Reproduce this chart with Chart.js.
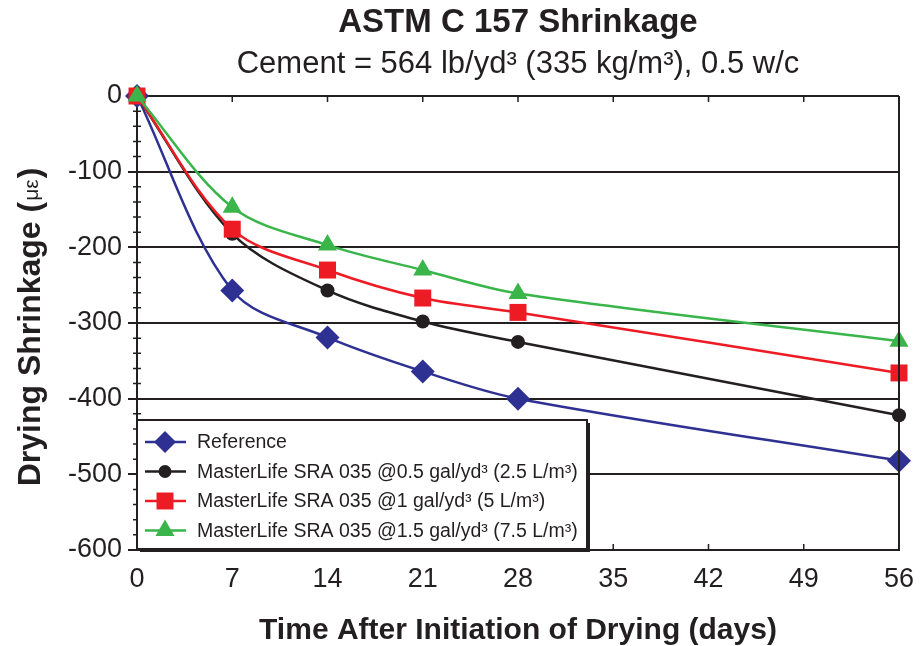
<!DOCTYPE html>
<html>
<head>
<meta charset="utf-8">
<script src="https://cdn.jsdelivr.net/npm/chart.js@4.4.1/dist/chart.umd.min.js"></script>
<style>
  html, body { margin: 0; padding: 0; background: #fff; }
  #wrap { width: 923px; height: 646px; }
</style>
</head>
<body>
<div id="wrap"><canvas id="shrinkChart" width="923" height="646"></canvas></div>
<script>
// data
const days = [0, 7, 14, 21, 28, 56];
const referenceVals = [0, -257, -319, -364, -400, -482];
const sra05Vals = [0, -182, -257, -298, -325, -422];
const sra1Vals = [0, -176, -230, -267, -286, -366];
const sra15Vals = [0, -147, -197, -230, -261, -324];

const seriesNames = [
    'Reference',
    'MasterLife SRA 035 @0.5 gal/yd³ (2.5 L/m³)',
    'MasterLife SRA 035 @1 gal/yd³ (5 L/m³)',
    'MasterLife SRA 035 @1.5 gal/yd³ (7.5 L/m³)'
];
const xTickVals = [0, 7, 14, 21, 28, 35, 42, 49, 56];
const yTickVals = [0, -100, -200, -300, -400, -500, -600];

const titleText = 'ASTM C 157 Shrinkage';
const subtitleText = 'Cement = 564 lb/yd³ (335 kg/m³), 0.5 w/c';
const xTitle = 'Time After Initiation of Drying (days)';

const ink = '#231f20';
const FONT = '"Liberation Sans", Arial, Helvetica, sans-serif';

const styles = [
    { color: '#2e3192', pointStyle: 'rectRot', radius: 12, legendRadius: 11 },
    { color: '#231f20', pointStyle: 'circle', radius: 7, legendRadius: 6.5 },
    { color: '#ed1c24', pointStyle: 'rect', radius: 12, legendRadius: 12 },
    { color: '#39b54a', pointStyle: 'triangle', radius: 11, legendRadius: 11 }
];
const allVals = [referenceVals, sra05Vals, sra1Vals, sra15Vals];

const datasets = allVals.map((vals, i) => ({
    label: seriesNames[i],
    data: days.map((d, j) => ({ x: d, y: vals[j] })),
    borderColor: styles[i].color,
    backgroundColor: styles[i].color,
    pointStyle: styles[i].pointStyle,
    pointRadius: styles[i].radius,
    pointBorderWidth: 0,
    borderWidth: 2.5,
    tension: 0.33,
    clip: false,
    order: 3 - i
}));

// titles, frame, minor ticks and the boxed legend
const decorPlugin = {
    id: 'decor',
    afterDraw(chart) {
        const ctx = chart.ctx;
        const ca = chart.chartArea;
        const xs = chart.scales.x, ys = chart.scales.y;
        const cx = (ca.left + ca.right) / 2;
        ctx.save();
        ctx.fillStyle = ink;
        ctx.textAlign = 'center';
        ctx.textBaseline = 'alphabetic';
        ctx.font = 'bold 33px ' + FONT;
        ctx.fillText(titleText, cx, 32);
        ctx.font = '31px ' + FONT;
        ctx.fillText(subtitleText, cx, 73);
        ctx.font = 'bold 30px ' + FONT;
        ctx.fillText(xTitle, cx, 639);

        // y title with small greek unit
        ctx.save();
        ctx.translate(40, (ca.top + ca.bottom) / 2 + 4);
        ctx.rotate(-Math.PI / 2);
        ctx.textAlign = 'left';
        const partA = 'Drying Shrinkage (';
        const partB = 'με';
        const partC = ')';
        ctx.font = 'bold 32px ' + FONT;
        const wA = ctx.measureText(partA).width;
        const wC = ctx.measureText(partC).width;
        ctx.font = '21px ' + FONT;
        const wB = ctx.measureText(partB).width + 2;
        let px = -(wA + wB + wC) / 2;
        ctx.font = 'bold 32px ' + FONT;
        ctx.fillText(partA, px, 0);
        px += wA;
        ctx.font = '21px ' + FONT;
        ctx.fillText(partB, px + 1, -2);
        px += wB;
        ctx.font = 'bold 32px ' + FONT;
        ctx.fillText(partC, px, 0);
        ctx.restore();

        // frame right edge
        ctx.strokeStyle = ink;
        ctx.lineWidth = 2;
        ctx.beginPath();
        ctx.moveTo(ca.right, ca.top);
        ctx.lineTo(ca.right, ca.bottom);
        ctx.stroke();

        // minor y ticks
        ctx.lineWidth = 1.5;
        ctx.beginPath();
        for (let v = -580; v < 0; v += 20) {
            if (v % 100 === 0) continue;
            const y = ys.getPixelForValue(v);
            ctx.moveTo(ca.left - 4, y);
            ctx.lineTo(ca.left + 4, y);
        }
        // x ticks on top and bottom edges
        xTickVals.forEach(v => {
            if (v === 0 || v === 56) return;
            const x = xs.getPixelForValue(v);
            ctx.moveTo(x, ca.top);
            ctx.lineTo(x, ca.top + 6);
            ctx.moveTo(x, ca.bottom);
            ctx.lineTo(x, ca.bottom - 6);
        });
        ctx.stroke();

        // legend box
        const bx = ca.left, by = 420, bw = 450, bh = ca.bottom - 1 - by;
        ctx.fillStyle = ink;
        ctx.fillRect(bx + 3, by + 3, bw, bh);
        ctx.fillStyle = '#fff';
        ctx.fillRect(bx, by, bw, bh);
        ctx.strokeStyle = ink;
        ctx.lineWidth = 2;
        ctx.strokeRect(bx, by, bw, bh);

        ctx.textAlign = 'left';
        ctx.textBaseline = 'middle';
        ctx.font = '19.5px ' + FONT;
        seriesNames.forEach((name, i) => {
            const rowY = 442 + i * 29.5;
            const st = styles[i];
            ctx.strokeStyle = st.color;
            ctx.lineWidth = 2.5;
            ctx.beginPath();
            ctx.moveTo(bx + 8, rowY);
            ctx.lineTo(bx + 49, rowY);
            ctx.stroke();
            ctx.fillStyle = st.color;
            Chart.helpers.drawPoint(ctx, { pointStyle: st.pointStyle, radius: st.legendRadius, rotation: 0, borderWidth: 0 }, bx + 28, rowY);
            ctx.fillStyle = ink;
            ctx.fillText(name, bx + 60, rowY + 1);
        });
        ctx.restore();
    }
};

const ctx = document.getElementById('shrinkChart').getContext('2d');
const shrinkChart = new Chart(ctx, {
    type: 'line',
    data: { datasets: datasets },
    options: {
        responsive: false,
        animation: false,
        devicePixelRatio: 1,
        layout: { padding: { left: 0, top: 96, right: 24, bottom: 0 } },
        plugins: {
            legend: { display: false },
            title: { display: false },
            tooltip: { enabled: false }
        },
        scales: {
            x: {
                type: 'linear',
                min: 0,
                max: 56,
                afterFit(scale) { scale.height = 96; },
                afterBuildTicks(scale) { scale.ticks = xTickVals.map(v => ({ value: v })); },
                grid: { display: false },
                border: { display: true, color: ink, width: 2 },
                ticks: { color: ink, font: { family: FONT, size: 27 }, padding: 5, maxRotation: 0 }
            },
            y: {
                min: -600,
                max: 0,
                afterFit(scale) { scale.width = 137; },
                afterBuildTicks(scale) { scale.ticks = yTickVals.map(v => ({ value: v })); },
                grid: { color: ink, lineWidth: 2, tickLength: 9 },
                border: { display: true, color: ink, width: 2 },
                ticks: { color: ink, font: { family: FONT, size: 27 }, padding: 6 }
            }
        }
    },
    plugins: [decorPlugin]
});
</script>
</body>
</html>
